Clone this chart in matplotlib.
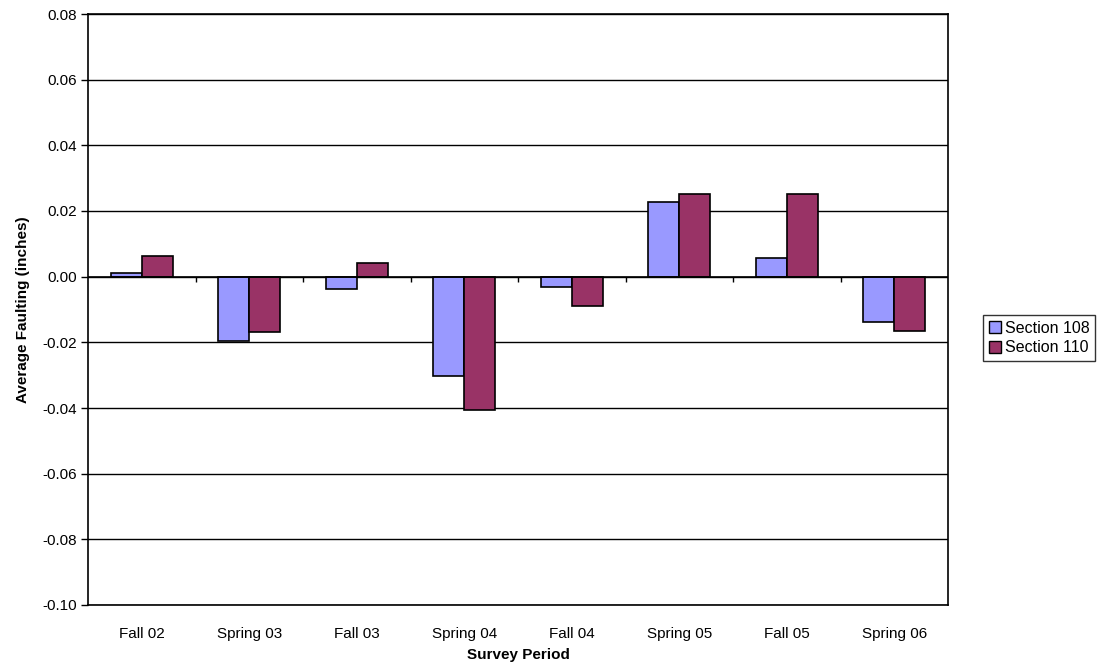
import matplotlib
matplotlib.use("Agg")
import matplotlib.pyplot as plt
import numpy as np
from matplotlib.patches import Patch

categories = ["Fall 02", "Spring 03", "Fall 03", "Spring 04", "Fall 04", "Spring 05", "Fall 05", "Spring 06"]
section_108 = [0.0011, -0.0196, -0.0039, -0.0304, -0.0030, 0.0226, 0.0058, -0.0137]
section_110 = [0.0063, -0.0170, 0.0041, -0.0405, -0.0088, 0.0251, 0.0251, -0.0164]
series_names = ["Section 108", "Section 110"]
colors = ["#9999FF", "#993366"]

plt.rcParams['font.family'] = ['Liberation Sans', 'DejaVu Sans']

fig = plt.figure(figsize=(10.99, 6.67), dpi=100)
ax = fig.add_axes([88/1099, 1-605/667, (948-88)/1099, (605-14)/667])

x = np.arange(len(categories))
w = 0.29
ax.bar(x - w/2, section_108, w, color=colors[0], edgecolor='black', linewidth=1.2, zorder=3)
ax.bar(x + w/2, section_110, w, color=colors[1], edgecolor='black', linewidth=1.2, zorder=3)

ax.set_xlim(-0.5, len(categories) - 0.5)
ax.set_ylim(-0.10, 0.08)
yt = np.arange(-0.10, 0.0801, 0.02)
ax.set_yticks(yt)
ax.set_yticklabels([f"{v:.2f}" if abs(v) > 1e-9 else "0.00" for v in yt])
ax.yaxis.grid(True, color='black', linewidth=1.0, zorder=0)
ax.set_axisbelow(True)

ax.set_xticks(x)
ax.set_xticklabels(categories)
ax.tick_params(axis='x', length=0, pad=16, labelsize=11)
ax.tick_params(axis='y', length=5, width=1, labelsize=11, pad=3)

# zero line and category-boundary ticks
ax.axhline(0, color='black', linewidth=1.2, zorder=4)
bounds = np.arange(0.5, len(categories) - 0.5, 1.0)
ax.vlines(bounds, -0.0016, 0, color='black', linewidth=1.0, zorder=4)

for s in ax.spines.values():
    s.set_linewidth(1.2)

ax.set_ylabel("Average Faulting (inches)", fontsize=11, fontweight='bold', labelpad=9)
ax.set_xlabel("Survey Period", fontsize=11, fontweight='bold', labelpad=5)

handles = [Patch(facecolor=colors[0], edgecolor='black'), Patch(facecolor=colors[1], edgecolor='black')]
leg = fig.legend(handles, series_names, loc='center left', bbox_to_anchor=(983/1099, 1-338/667),
                 fontsize=11.5, frameon=True, fancybox=False, edgecolor='black',
                 handlelength=0.75, handleheight=0.75, handletextpad=0.25, borderpad=0.35,
                 labelspacing=0.3, borderaxespad=0)
leg.get_frame().set_linewidth(1.0)

fig.savefig("out.png", dpi=100)
